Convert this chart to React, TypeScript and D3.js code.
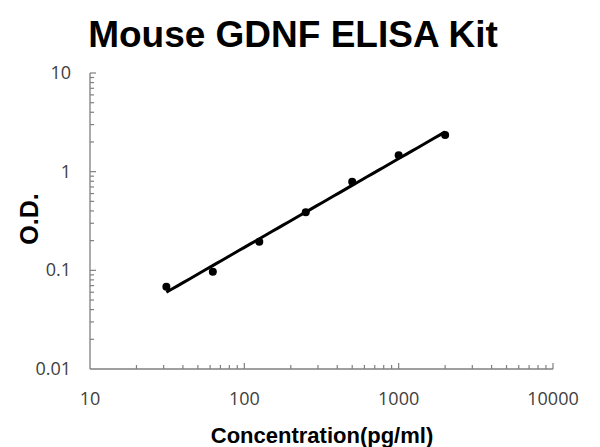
import React from "react";
import * as d3 from "d3";

const concentrations = [31.25, 62.5, 125, 250, 500, 1000, 2000];
const odValues = [0.068, 0.097, 0.195, 0.387, 0.79, 1.47, 2.35];
const xTickLabels = ["10", "100", "1000", "10000"];
const yTickLabels = ["0.01", "0.1", "1", "10"];
const title = "Mouse GDNF ELISA Kit";
const xTitle = "Concentration(pg/ml)";
const yTitle = "O.D.";

export default function App() {
  const W = 600, H = 447;
  const x = d3.scaleLog().domain([10, 10000]).range([90, 553]);
  const y = d3.scaleLog().domain([0.01, 10]).range([369, 73]);

  // power fit in log-log space
  const lx = concentrations.map((c) => Math.log10(c));
  const ly = odValues.map((v) => Math.log10(v));
  const mx = d3.mean(lx)!;
  const my = d3.mean(ly)!;
  let sxy = 0, sxx = 0;
  lx.forEach((v, i) => { sxy += (v - mx) * (ly[i] - my); sxx += (v - mx) ** 2; });
  const slope = sxy / sxx;
  const fit = (c: number) => Math.pow(10, my + slope * (Math.log10(c) - mx));
  const xs = d3.range(0, 51).map((i) => {
    const a = Math.log10(concentrations[0]);
    const b = Math.log10(concentrations[concentrations.length - 1]);
    return Math.pow(10, a + ((b - a) * i) / 50);
  });
  const line = d3.line<number>().x((c) => x(c)).y((c) => y(fit(c)));

  const xMinor: number[] = [];
  for (let d = 10; d < 10000; d *= 10) for (let k = 2; k <= 10; k++) xMinor.push(d * k);
  const yMinor: number[] = [];
  for (let d = 0.01; d < 9; d *= 10) for (let k = 2; k <= 10; k++) yMinor.push(+(d * k).toPrecision(3));

  const axisColor = "#7f7f7f";
  const font = "'Liberation Sans', Arial, sans-serif";
  const tickFont = "'Open Sans', 'Noto Sans', sans-serif";

  return (
    <svg width={W} height={H} style={{ position: "absolute", left: 0, top: 0, background: "#fff" }} fontFamily={font}>
      <text x={293} y={47} textAnchor="middle" fontSize={37} fontWeight="bold" fill="#000">{title}</text>
      {/* axes */}
      <line x1={90} y1={73} x2={90} y2={369} stroke={axisColor} strokeWidth={1.3} />
      <line x1={90} y1={369} x2={553} y2={369} stroke={axisColor} strokeWidth={1.3} />
      {xMinor.map((v, i) => {
        const major = Math.abs(Math.log10(v) - Math.round(Math.log10(v))) < 1e-6;
        return <line key={"xt" + i} x1={x(v)} x2={x(v)} y1={369} y2={369 - (major ? 6 : 4)} stroke={axisColor} strokeWidth={1.2} />;
      })}
      {yMinor.map((v, i) => {
        const major = Math.abs(Math.log10(v) - Math.round(Math.log10(v))) < 1e-6;
        return <line key={"yt" + i} x1={90} x2={90 + (major ? 6 : 4)} y1={y(v)} y2={y(v)} stroke={axisColor} strokeWidth={1.2} />;
      })}
      {xTickLabels.map((t) => (
        <text key={"xl" + t} x={x(+t)} y={405} textAnchor="middle" fontSize={18} fill="#404040" fontFamily={tickFont}>{t}</text>
      ))}
      {yTickLabels.map((t) => (
        <text key={"yl" + t} x={71} y={y(+t) + 6} textAnchor="end" fontSize={18} fill="#404040" fontFamily={tickFont}>{t}</text>
      ))}
      <text x={322} y={443} textAnchor="middle" fontSize={22} fontWeight="bold" fill="#000">{xTitle}</text>
      <text transform="translate(38,219) rotate(-90)" textAnchor="middle" fontSize={25} fontWeight="bold" fill="#000">{yTitle}</text>
      {/* fit line */}
      <path d={line(xs) || ""} fill="none" stroke="#000" strokeWidth={3} />
      {concentrations.map((c, i) => (
        <circle key={"p" + i} cx={x(c)} cy={y(odValues[i])} r={4} fill="#000" />
      ))}
    </svg>
  );
}
